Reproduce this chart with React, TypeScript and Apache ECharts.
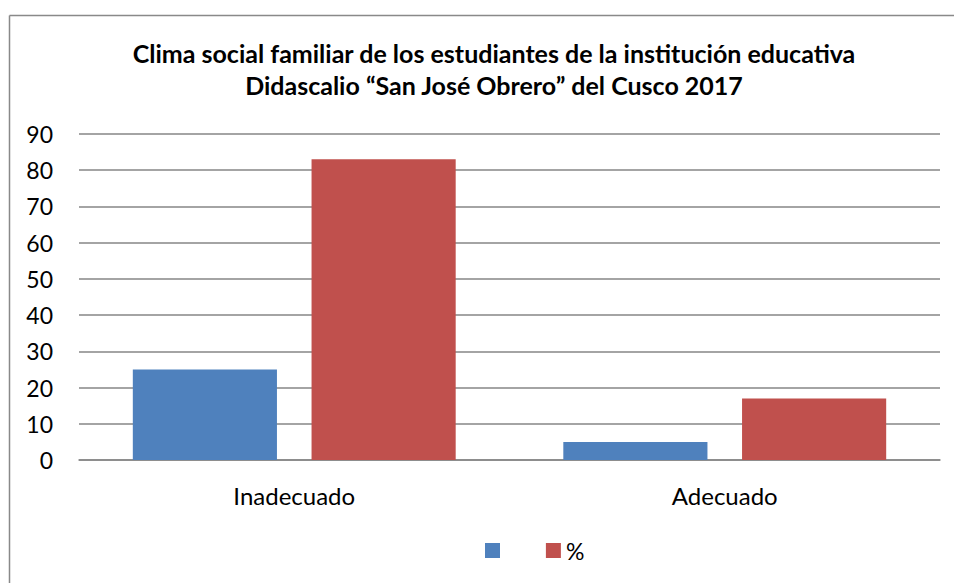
import React, { useEffect, useRef } from "react";
import * as echarts from "echarts";

const titleLines = [
  "Clima social familiar de los estudiantes de la institución educativa",
  "Didascalio “San José Obrero” del Cusco 2017",
];
const categories = ["Inadecuado", "Adecuado"];
const seriesNames = [" ", "%"];
const seriesBlue = [25, 5];
const seriesRed = [83, 17];
const yMin = 0;
const yMax = 90;
const yInterval = 10;

const FONT = "Lato, 'Open Sans', 'Noto Sans', sans-serif";

export default function App() {
  const ref = useRef<HTMLDivElement>(null);
  useEffect(() => {
    const chart = echarts.init(ref.current!, null, { renderer: "svg" });
    chart.setOption({
      animation: false,
      backgroundColor: "#ffffff",
      textStyle: { fontFamily: FONT },
      title: {
        text: titleLines.join("\n"),
        left: 489,
        textAlign: "center",
        top: 32,
        textStyle: {
          fontFamily: FONT,
          fontWeight: "bold",
          fontSize: 25,
          lineHeight: 32,
          color: "#000000",
        },
      },
      graphic: [
        {
          type: "line",
          shape: { x1: 9.5, y1: 15.5, x2: 960, y2: 15.5 },
          style: { stroke: "#898989", lineWidth: 1.5 },
          silent: true,
        },
        {
          type: "line",
          shape: { x1: 9.5, y1: 15.5, x2: 9.5, y2: 600 },
          style: { stroke: "#898989", lineWidth: 1.5 },
          silent: true,
        },
      ],
      legend: {
        left: 485,
        top: 539,
        padding: 0,
        itemWidth: 15,
        itemHeight: 15,
        itemGap: 35,
        icon: "rect",
        data: seriesNames,
        textStyle: { fontFamily: FONT, fontSize: 23, color: "#000000" },
      },
      grid: { left: 79, right: 14, top: 134, bottom: 123, containLabel: false },
      xAxis: {
        type: "category",
        data: categories,
        axisLine: { lineStyle: { color: "#868686", width: 1.5 } },
        axisTick: { show: false },
        axisLabel: { fontFamily: FONT, fontSize: 24, color: "#000000", margin: 23 },
      },
      yAxis: {
        type: "value",
        min: yMin,
        max: yMax,
        interval: yInterval,
        axisLine: { show: false },
        axisTick: { show: false },
        splitLine: { lineStyle: { color: "#868686", width: 1.5 } },
        axisLabel: { fontFamily: FONT, fontSize: 23, color: "#000000", margin: 26 },
      },
      series: [
        {
          name: seriesNames[0],
          type: "bar",
          data: seriesBlue,
          itemStyle: { color: "#4F81BD" },
          barGap: "24%",
          barCategoryGap: "25%",
        },
        {
          name: seriesNames[1],
          type: "bar",
          data: seriesRed,
          itemStyle: { color: "#C0504D" },
          barGap: "24%",
          barCategoryGap: "25%",
        },
      ],
    });
    return () => chart.dispose();
  }, []);
  return (
    <div
      ref={ref}
      style={{ position: "fixed", left: 0, top: 0, width: 954, height: 583 }}
    />
  );
}
